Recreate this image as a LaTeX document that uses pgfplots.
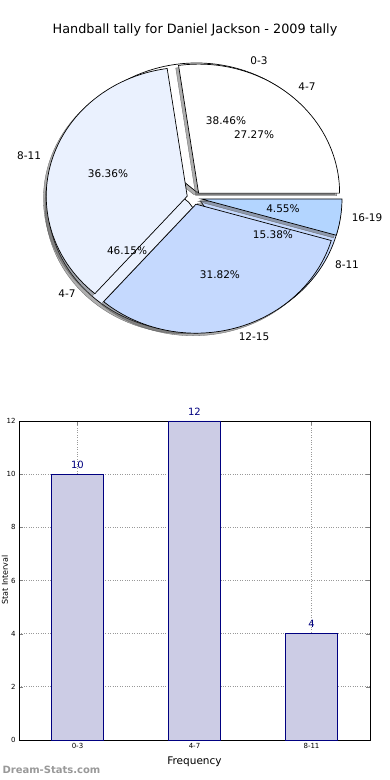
\documentclass[border=0pt]{standalone}
\usepackage{fontspec}
\setmainfont{DejaVu Sans}
\usepackage{pgfplots}
\pgfplotsset{compat=1.18}
\definecolor{cW}{RGB}{255,255,255}
\definecolor{cL}{RGB}{234,241,254}
\definecolor{cM}{RGB}{197,217,254}
\definecolor{cB}{RGB}{179,213,255}
\definecolor{barfill}{RGB}{204,204,229}
\definecolor{navyc}{RGB}{0,0,128}
\newcommand{\lab}{\fontsize{10.5}{12}\selectfont}
% start, end, colour, ox, oy, shadow ox, shadow oy
\newcommand{\pieWedge}[7]{%
  \addplot[draw=black!60, line width=0.3pt, fill=black!70, fill opacity=0.45, domain=#1:#2, samples=60]
    ({#6+cos(x)},{#7+sin(x)}) -- (axis cs:#6,#7) -- cycle;
  \addplot[draw=black, line width=0.7pt, fill=#3, domain=#1:#2, samples=60]
    ({#4+cos(x)},{#5+sin(x)}) -- (axis cs:#4,#5) -- cycle;
}
\begin{document}
\begin{tikzpicture}
\useasboundingbox (0,0) rectangle (390pt,780pt);
\fill[white] (0,0) rectangle (390pt,780pt);
\node[font=\fontsize{12.8}{15}\selectfont] at (195pt,750pt) {Handball tally for Daniel Jackson - 2009 tally};
\begin{axis}[hide axis, clip=false, x=141pt, y=129pt,
  xmin=-1.4, xmax=1.4, ymin=-1.4, ymax=1.4,
  at={(194pt,582pt)}, anchor=center]
% second pie: 10, 12, 4 of 26
\pieWedge{0}{138.46}{cW}{0.0177}{0.0468}{-0.0023}{0.0268}
\pieWedge{138.46}{304.62}{cL}{-0.0374}{-0.0332}{-0.0574}{-0.0532}
\pieWedge{304.62}{360}{cM}{0.0443}{-0.0232}{0.0243}{-0.0432}
% first pie: 6, 8, 7, 1 of 22
\pieWedge{0}{98.18}{cW}{0.0327}{0.0378}{0.0127}{0.0178}
\pieWedge{98.18}{229.09}{cL}{-0.0480}{0.0141}{-0.0680}{-0.0059}
\pieWedge{229.09}{343.64}{cM}{0.0141}{-0.0480}{-0.0059}{-0.0680}
\pieWedge{343.64}{360}{cB}{0.0495}{-0.0071}{0.0295}{-0.0271}
\node[font=\lab] at (axis cs:0.461,1.062) {0-3};
\node[font=\lab] at (axis cs:0.801,0.860) {4-7};
\node[font=\lab] at (axis cs:0.227,0.597) {38.46\%};
\node[font=\lab] at (axis cs:0.426,0.488) {27.27\%};
\node[font=\lab] at (axis cs:-1.170,0.326) {8-11};
\node[font=\lab] at (axis cs:-0.610,0.186) {36.36\%};
\node[font=\lab] at (axis cs:0.631,-0.085) {4.55\%};
\node[font=\lab] at (axis cs:1.227,-0.155) {16-19};
\node[font=\lab] at (axis cs:0.560,-0.287) {15.38\%};
\node[font=\lab] at (axis cs:-0.475,-0.411) {46.15\%};
\node[font=\lab] at (axis cs:1.085,-0.519) {8-11};
\node[font=\lab] at (axis cs:0.184,-0.597) {31.82\%};
\node[font=\lab] at (axis cs:-0.901,-0.744) {4-7};
\node[font=\lab] at (axis cs:0.426,-1.078) {12-15};
\end{axis}
\begin{axis}[at={(19pt,40pt)}, anchor=south west, scale only axis,
  width=351pt, height=319pt,
  xmin=-0.5, xmax=2.5, ymin=0, ymax=12,
  ytick={0,2,...,12}, xtick={0,1,2}, xticklabels={0-3,4-7,8-11},
  /pgf/number format/assume math mode=true,
  tick align=inside, tick pos=both, major tick length=4pt,
  grid=major, grid style={dotted, black!40, line width=0.7pt},
  axis line style={line width=0.8pt},
  tick label style={font=\fontsize{7}{8}\selectfont},
  xlabel={Frequency}, xlabel style={font=\fontsize{10.5}{12}\selectfont, yshift=-1pt}]
\addplot[ybar, bar width=52pt, fill=barfill, draw=navyc, line width=0.7pt,
  nodes near coords, nodes near coords style={font=\fontsize{10}{12}\selectfont, text=navyc, yshift=2pt}]
  coordinates {(0,10) (1,12) (2,4)};
\end{axis}
\node[rotate=90, font=\fontsize{8}{10}\selectfont] at (5pt,200pt) {Stat Interval};
\node[anchor=west, text=black!40, font=\bfseries\fontsize{10}{12}\selectfont] at (-1pt,10pt) {Dream-Stats.com};
\end{tikzpicture}
\end{document}
